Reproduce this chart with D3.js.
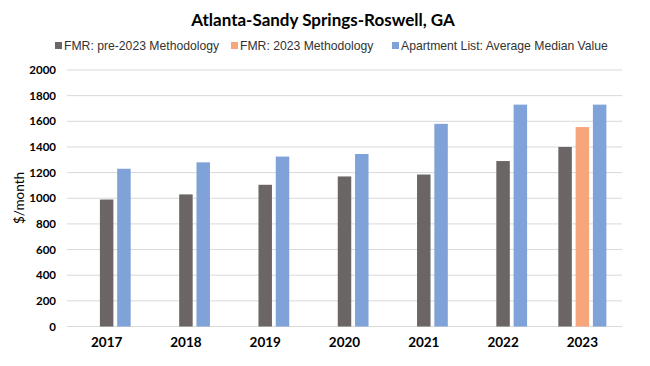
<!DOCTYPE html>
<html>
<head>
<meta charset="utf-8">
<script src="https://cdn.jsdelivr.net/npm/d3@7"></script>
<style>
  body { margin: 0; background: #fff; }
  svg { display: block; }
</style>
</head>
<body>
<script>
const years = ['2017', '2018', '2019', '2020', '2021', '2022', '2023'];
const fmrPre = [990, 1030, 1105, 1170, 1185, 1290, 1400];
const fmr2023 = [null, null, null, null, null, null, 1555];
const aptList = [1230, 1280, 1325, 1345, 1580, 1730, 1730];
const yTicks = [0, 200, 400, 600, 800, 1000, 1200, 1400, 1600, 1800, 2000];
const seriesNames = ['FMR: pre-2023 Methodology', 'FMR: 2023 Methodology', 'Apartment List: Average Median Value'];
const colors = ['#6b6565', '#f6a67a', '#7fa2d9'];

const w = 650, h = 366;
const plotLeft = 67, plotRight = 622, plotTop = 70, plotBottom = 326.5;

const svg = d3.select('body').append('svg').attr('width', w).attr('height', h);

const xScale = d3.scaleBand().domain(years).range([plotLeft, plotRight]);
const yScale = d3.scaleLinear().domain([0, 2000]).range([plotBottom, plotTop]);

// gridlines
svg.append('g')
   .selectAll('line')
   .data(yTicks)
   .enter()
   .append('line')
   .attr('x1', plotLeft).attr('x2', plotRight)
   .attr('y1', (d) => yScale(d)).attr('y2', (d) => yScale(d))
   .attr('stroke', '#d9d9d9')
   .attr('stroke-width', 1);

// bars: last bar of each year sits right of centre, the others fill back
const step = xScale.bandwidth() * 0.218;
const barW = xScale.bandwidth() * 0.17;
const bars = [];
years.forEach((yr, i) => {
  const vals = [fmrPre[i], fmr2023[i], aptList[i]];
  const present = [0, 1, 2].filter((s) => vals[s] != null);
  present.forEach((s, k) => {
    const slot = k - (present.length - 1) + 1;
    bars.push({ year: yr, series: s, value: vals[s], slot: slot });
  });
});

svg.append('g')
   .selectAll('rect')
   .data(bars)
   .enter()
   .append('rect')
   .attr('x', (d) => xScale(d.year) + xScale.bandwidth() / 2 + d.slot * step - barW / 2)
   .attr('y', (d) => yScale(d.value))
   .attr('width', barW)
   .attr('height', (d) => yScale(0) - yScale(d.value))
   .attr('fill', (d) => colors[d.series]);

// y axis labels
const yAxis = d3.axisLeft(yScale).tickValues(yTicks).tickFormat(d3.format('d')).tickSize(0).tickPadding(0);
const yg = svg.append('g').attr('transform', 'translate(56, 0)').call(yAxis);
yg.select('.domain').remove();
yg.selectAll('text').style('font-family', 'Lato, sans-serif').style('font-weight', 'bold').style('font-size', '11.5px').attr('fill', '#000');

// x axis labels
const xAxis = d3.axisBottom(xScale).tickSize(0).tickPadding(0);
const xg = svg.append('g').attr('transform', 'translate(0, 337)').call(xAxis);
xg.select('.domain').remove();
xg.selectAll('text').style('font-family', 'Lato, sans-serif').style('font-weight', 'bold').style('font-size', '13.5px').attr('fill', '#000');

// axis title
svg.append('text')
   .text('$/month')
   .attr('transform', 'translate(24, 198)rotate(-90)')
   .attr('text-anchor', 'middle')
   .style('font-family', 'Lato, sans-serif')
   .style('font-size', '13.5px')
   .attr('fill', '#000');

// title
svg.append('text')
   .text('Atlanta-Sandy Springs-Roswell, GA')
   .attr('x', 323).attr('y', 26)
   .attr('text-anchor', 'middle')
   .style('font-family', 'Lato, sans-serif')
   .style('font-weight', 'bold')
   .style('font-size', '17px')
   .attr('fill', '#000');

// legend
const legendX = [55, 231, 392];
const legend = svg.append('g')
   .selectAll('g')
   .data(seriesNames)
   .enter()
   .append('g')
   .attr('transform', (d, i) => 'translate(' + legendX[i] + ', 46)');
legend.append('rect').attr('x', 0).attr('y', -4).attr('width', 7).attr('height', 7).attr('fill', (d, i) => colors[i]);
legend.append('text')
   .text((d) => d)
   .attr('x', 9).attr('y', 4)
   .style('font-family', '"Liberation Sans", Arial, sans-serif')
   .style('font-size', '12.2px')
   .attr('fill', '#333');
</script>
</body>
</html>
